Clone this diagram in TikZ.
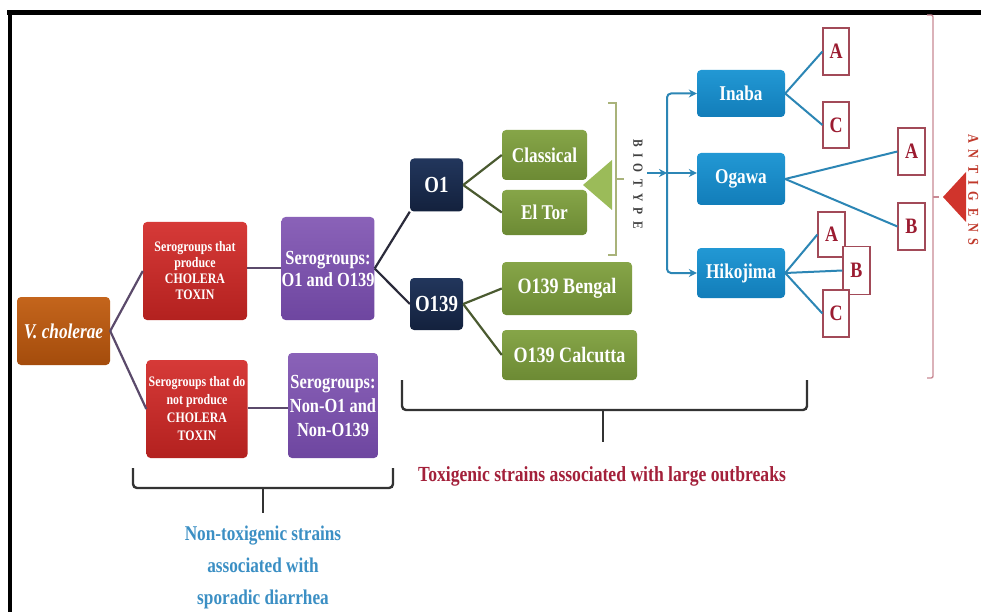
\documentclass[tikz,border=0pt]{standalone}
\usepackage{fontspec}
\setmainfont{Liberation Serif}[FakeStretch=0.82]
\usetikzlibrary{arrows.meta}
\definecolor{vcT}{HTML}{C4651C}\definecolor{vcB}{HTML}{A44C0C}
\definecolor{rdT}{HTML}{D63A38}\definecolor{rdB}{HTML}{B3211F}
\definecolor{puT}{HTML}{8A62B8}\definecolor{puB}{HTML}{6E46A0}
\definecolor{nvT}{HTML}{22365C}\definecolor{nvB}{HTML}{13213D}
\definecolor{grT}{HTML}{86A548}\definecolor{grB}{HTML}{6C8A34}
\definecolor{blT}{HTML}{2298D4}\definecolor{blB}{HTML}{127DB9}
\definecolor{lgreen}{HTML}{9BBB59}
\definecolor{brgreen}{HTML}{A9B37A}
\definecolor{ltr}{HTML}{9B1B30}
\definecolor{ltrbox}{HTML}{A24A58}
\definecolor{lnpur}{HTML}{5B4A6B}
\definecolor{lndark}{HTML}{2B2B3B}
\definecolor{lnolive}{HTML}{4A5A30}
\definecolor{lnblue}{HTML}{2C86B5}
\definecolor{toxred}{HTML}{A3203A}
\definecolor{ntblue}{HTML}{3B8FC4}
\definecolor{brred}{HTML}{C98A94}
\definecolor{trired}{HTML}{D0342C}
\definecolor{antred}{HTML}{C0392B}
\begin{document}
\begin{tikzpicture}[x=1pt,y=-1pt,
  box/.style={rounded corners=4pt, inner sep=0pt, text=white, align=center},
  vcbox/.style={box, top color=vcT, bottom color=vcB},
  redbox/.style={box, top color=rdT, bottom color=rdB, font=\fontsize{14.5}{16}\selectfont\bfseries},
  purbox/.style={box, top color=puT, bottom color=puB},
  navbox/.style={box, top color=nvT, bottom color=nvB, font=\fontsize{23}{26}\selectfont\bfseries, minimum width=53pt, minimum height=53pt},
  grnbox/.style={box, top color=grT, bottom color=grB},
  blubox/.style={box, top color=blT, bottom color=blB, font=\fontsize{21}{24}\selectfont\bfseries, minimum width=88pt},
  ltrbox/.style={draw=ltrbox, line width=1.2pt, fill=white, inner sep=0pt, text=ltr, font=\fontsize{22}{24}\selectfont\bfseries, minimum width=26pt, minimum height=46pt},
  purline/.style={draw=lnpur, line width=2.2pt},
  darkline/.style={draw=lndark, line width=2.2pt},
  oliveline/.style={draw=lnolive, line width=2.2pt},
  blueline/.style={draw=lnblue, line width=2pt},
  bluearrow/.style={draw=lnblue, line width=2pt, -{Stealth[length=8pt,width=8pt]}},
  bracebk/.style={draw=black!80, line width=2.4pt, rounded corners=4pt}
]
\useasboundingbox (0,0) rectangle (981,612);
\fill[white] (0,0) rectangle (981,612);
% frame
\draw[line width=4.5pt] (7,12.5) -- (981,12.5);
\draw[line width=3.5pt] (10,10.5) -- (10,612);

% boxes
\node[vcbox, minimum width=93pt, minimum height=68pt, font=\fontsize{21}{24}\selectfont\bfseries\itshape] (vc) at (63.5,331) {V. cholerae};
\node[redbox, minimum width=104pt, minimum height=98pt] (r1) at (195,271) {Serogroups that\\produce\\CHOLERA\\TOXIN};
\node[redbox, minimum width=101pt, minimum height=98pt, font=\fontsize{14.5}{18}\selectfont\bfseries] (r2) at (197,409) {Serogroups that do\\not produce\\CHOLERA\\TOXIN};
\node[purbox, minimum width=90pt, minimum height=103pt, font=\fontsize{20}{22}\selectfont\bfseries] (p1) at (328,268.5) {Serogroups:\\O1 and O139};
\node[purbox, minimum width=90pt, minimum height=105pt, font=\fontsize{20}{24}\selectfont\bfseries] (p2) at (333,405.5) {Serogroups:\\Non-O1 and\\Non-O139};
\node[navbox] (o1) at (436.5,185) {O1};
\node[navbox, minimum height=52pt] (o139) at (436.5,304) {O139};
\node[grnbox, minimum width=85pt, minimum height=50pt, font=\fontsize{21}{24}\selectfont\bfseries] (cl) at (544.5,155) {Classical};
\node[grnbox, minimum width=85pt, minimum height=45pt, font=\fontsize{21}{24}\selectfont\bfseries] (et) at (544.5,212.5) {El Tor};
\node[grnbox, minimum width=130pt, minimum height=53pt, font=\fontsize{22}{24}\selectfont\bfseries] (bg) at (567,288.5) {O139 Bengal};
\node[grnbox, minimum width=135pt, minimum height=50pt, font=\fontsize{22}{24}\selectfont\bfseries] (cc) at (569.5,355) {O139 Calcutta};

% biotype marker
\fill[lgreen] (583,185) -- (612,160) -- (612,210) -- cycle;
\draw[draw=brgreen, line width=1.5pt] (608,103) -- (616,103) -- (616,255) -- (608,255);
\draw[draw=brgreen, line width=1.5pt] (616,179) -- (624,179);
\node[rotate=-90, text=black!75, inner sep=0pt, font=\fontsize{14}{16}\selectfont\bfseries\addfontfeatures{LetterSpace=45}] (bio) at (638,184) {BIOTYPE};

% blue serotype boxes
\node[blubox, minimum height=47pt] (inaba) at (741,93.5) {Inaba};
\node[blubox, minimum height=52pt] (ogawa) at (741,179) {Ogawa};
\node[blubox, minimum height=50pt] (hiko) at (741,273) {Hikojima};

\coordinate (bt) at (647,173);
\coordinate (split) at (667,173);
\draw[bluearrow] (bt) -- (split);
\draw[bluearrow, rounded corners=4pt] (split) |- (inaba.west);
\draw[bluearrow] (split) -- (ogawa.west |- split);
\draw[bluearrow, rounded corners=4pt] (split) |- (hiko.west);

% letter boxes
\node[ltrbox, minimum height=47pt] (iA) at (836,51.5) {A};
\node[ltrbox] (iC) at (836,125) {C};
\node[ltrbox, minimum width=27pt, minimum height=47pt] (oA) at (911.5,151.5) {A};
\node[ltrbox, minimum width=27pt, minimum height=47pt] (oB) at (911.5,226.5) {B};
\node[ltrbox, minimum width=27pt, minimum height=45pt] (hA) at (831.5,234.5) {A};
\node[ltrbox, minimum width=27pt, minimum height=48pt] (hB) at (856.5,270.5) {B};
\node[ltrbox, minimum height=47pt] (hC) at (836,313.5) {C};

\draw[blueline] (inaba.east) -- (iA.west);
\draw[blueline] (inaba.east) -- (iC.west);
\draw[blueline] (ogawa.east) -- (oA.west);
\draw[blueline] (ogawa.east) -- (oB.west);
\draw[blueline] (hiko.east) -- (hA.west);
\draw[blueline] (hiko.east) -- (hB.west);
\draw[blueline] (hiko.east) -- (hC.west);

% antigens marker
\draw[draw=brred, line width=1.4pt, rounded corners=2pt] (927,15) -- (933,15) -- (933,378) -- (927,378);
\draw[draw=brred, line width=1.4pt] (933,197) -- (939,197);
\fill[trired] (943,197) -- (966,172) -- (966,222) -- cycle;
\node[rotate=-90, anchor=south, text=antred, inner sep=0pt, font=\fontsize{15}{17}\selectfont\bfseries\addfontfeatures{LetterSpace=45}] (ant) at (968,190) {ANTIGENS};

% connectors left part
\draw[purline] (vc.east) -- (r1.west);
\draw[purline] (vc.east) -- (r2.west);
\draw[purline] (r1.east |- 0,268) -- (p1.west |- 0,268);
\draw[purline] (r2.east |- 0,408) -- (p2.west |- 0,408);
\draw[darkline] (p1.east) -- (o1.south west);
\draw[darkline] (p1.east) -- (o139.west);
\draw[oliveline] (o1.east) -- (cl.west);
\draw[oliveline] (o1.east) -- (et.west);
\draw[oliveline] (o139.east) -- (bg.west);
\draw[oliveline] (o139.east) -- (cc.west);

% braces
\draw[bracebk] (402,380) -- (402,410) -- (807,410) -- (807,380);
\coordinate (toxtop) at (603,410);
\coordinate (toxbot) at (603,442);
\draw[bracebk] (toxtop) -- (toxbot);
\node[text=toxred, font=\fontsize{21.5}{24}\selectfont\bfseries] (tox) at (602,476) {Toxigenic strains associated with large outbreaks};

\draw[bracebk] (133,468) -- (133,488) -- (393,488) -- (393,468);
\coordinate (nttop) at (263,488);
\coordinate (ntbot) at (263,513);
\draw[bracebk] (nttop) -- (ntbot);
\node[text=ntblue, align=center, inner sep=0pt, font=\fontsize{21}{32}\selectfont\bfseries] (nt) at (263,567) {Non-toxigenic strains\\associated with\\sporadic diarrhea};
\end{tikzpicture}
\end{document}
